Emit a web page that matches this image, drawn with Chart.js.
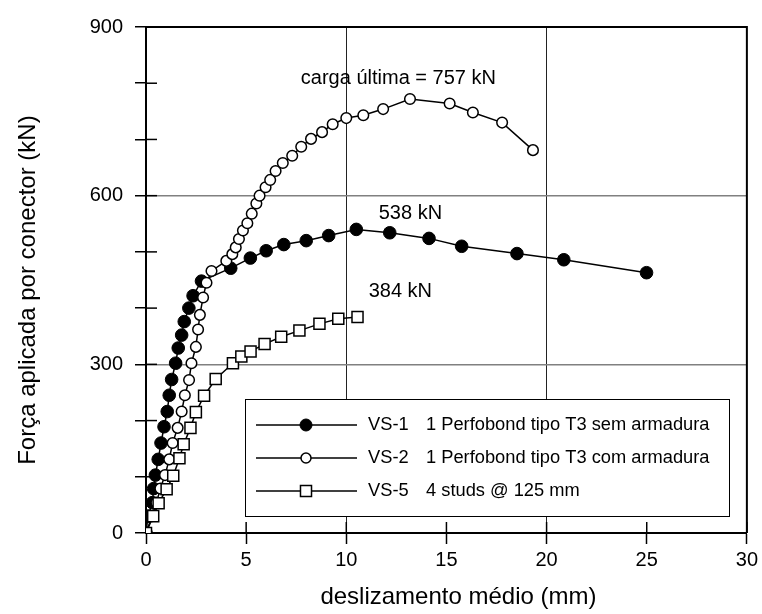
<!DOCTYPE html>
<html>
<head>
<meta charset="utf-8">
<script src="https://cdn.jsdelivr.net/npm/chart.js@4.4.1/dist/chart.umd.min.js"></script>
<style>
  html, body { margin: 0; padding: 0; background: #fff; }
  #wrap { width: 762px; height: 614px; }
</style>
</head>
<body>
<div id="wrap"><canvas id="slipChart" width="762" height="614"></canvas></div>
<script>
// deslizamento (mm) / força (kN)
const vs1Slip = [0, 0.1, 0.32, 0.38, 0.47, 0.61, 0.75, 0.9, 1.06, 1.16, 1.28, 1.48, 1.61, 1.78, 1.91, 2.14, 2.35, 2.77, 4.23, 5.21, 6.0, 6.88, 8.0, 9.12, 10.5, 12.17, 14.13, 15.76, 18.52, 20.86, 24.99];
const vs1Load = [0, 30, 54, 79, 103, 131, 160, 189, 216, 245, 273, 302, 329, 352, 376, 400, 422, 448, 471, 489, 502, 513, 520, 529, 540, 534, 524, 510, 497, 486, 463];

const vs2Slip = [0, 0.3, 0.52, 0.72, 0.95, 1.16, 1.33, 1.58, 1.78, 1.94, 2.15, 2.27, 2.49, 2.6, 2.69, 2.85, 3.02, 3.27, 4.01, 4.31, 4.48, 4.64, 4.84, 5.06, 5.28, 5.51, 5.67, 5.97, 6.2, 6.47, 6.83, 7.3, 7.75, 8.24, 8.79, 9.32, 10.0, 10.85, 11.84, 13.18, 15.16, 16.32, 17.78, 19.32];
const vs2Load = [0, 30, 54, 79, 103, 131, 160, 187, 216, 245, 272, 302, 331, 362, 388, 419, 445, 466, 484, 496, 508, 523, 538, 551, 568, 586, 600, 615, 628, 644, 658, 671, 687, 701, 713, 727, 738, 743, 754, 772, 764, 748, 730, 681];

const vs5Slip = [0, 0.36, 0.63, 1.03, 1.36, 1.67, 1.88, 2.22, 2.49, 2.9, 3.48, 4.34, 4.76, 5.22, 5.92, 6.75, 7.66, 8.66, 9.6, 10.56];
const vs5Load = [0, 30, 53, 78, 102, 133, 158, 187, 215, 244, 274, 302, 314, 323, 336, 349, 360, 372, 381, 384];

const seriesNames = ['VS-1', 'VS-2', 'VS-5'];
const seriesDescriptions = ['1 Perfobond tipo T3 sem armadura', '1 Perfobond tipo T3 com armadura', '4 studs @ 125 mm'];

const xTicks = [0, 5, 10, 15, 20, 25, 30];
const yTickLabels = [0, 300, 600, 900];
const xGridAt = [10, 20];
const yGridAt = [300, 600];

const xTitle = 'deslizamento médio (mm)';
const yTitle = 'Força aplicada por conector (kN)';

const noteTexts = ['carga última = 757 kN', '538 kN', '384 kN'];
const noteSlip = [12.6, 13.2, 12.7];
const noteLoad = [809, 569, 429];

const FONT = "'Liberation Sans', Arial, sans-serif";

function toPoints(xs, ys) {
    return xs.map((x, i) => ({ x: x, y: ys[i] }));
}

// inner tick marks, box frame, axis titles, notes and the legend box
const framePlugin = {
    id: 'frame',
    beforeDatasetsDraw(chart) {
        const { ctx, chartArea: a, scales } = chart;
        ctx.save();
        ctx.strokeStyle = '#000';
        ctx.lineWidth = 1.5;
        scales.x.ticks.forEach(t => {
            const px = scales.x.getPixelForValue(t.value);
            ctx.beginPath();
            ctx.moveTo(px, a.bottom);
            ctx.lineTo(px, a.bottom - 11);
            ctx.stroke();
        });
        scales.y.ticks.forEach(t => {
            const py = scales.y.getPixelForValue(t.value);
            ctx.beginPath();
            ctx.moveTo(a.left, py);
            ctx.lineTo(a.left + 11, py);
            ctx.stroke();
        });
        ctx.lineWidth = 2;
        ctx.beginPath();
        ctx.moveTo(a.left, a.top);
        ctx.lineTo(a.right, a.top);
        ctx.lineTo(a.right, a.bottom);
        ctx.stroke();

        // axis titles (sit a bit off the plot centre in the original)
        ctx.fillStyle = '#000';
        ctx.font = '24px ' + FONT;
        ctx.textAlign = 'center';
        ctx.textBaseline = 'middle';
        ctx.fillText(xTitle, a.left + a.width * 0.52, 597);
        ctx.translate(28, a.top + a.height * 0.52);
        ctx.rotate(-Math.PI / 2);
        ctx.fillText(yTitle, 0, 0);
        ctx.restore();
    },
    afterDatasetsDraw(chart) {
        const { ctx, scales } = chart;
        ctx.save();
        ctx.fillStyle = '#000';
        ctx.font = '20px ' + FONT;
        ctx.textAlign = 'center';
        ctx.textBaseline = 'middle';
        noteTexts.forEach((txt, i) => {
            ctx.fillText(txt, scales.x.getPixelForValue(noteSlip[i]), scales.y.getPixelForValue(noteLoad[i]));
        });

        // legend
        const bx = 245, by = 399, bw = 484, bh = 117;
        ctx.fillStyle = '#fff';
        ctx.fillRect(bx, by, bw, bh);
        ctx.strokeStyle = '#000';
        ctx.lineWidth = 1;
        ctx.strokeRect(bx + 0.5, by + 0.5, bw, bh);
        ctx.font = '18.3px ' + FONT;
        ctx.textAlign = 'left';
        chart.data.datasets.forEach((ds, i) => {
            const ry = 425 + i * 33;
            ctx.strokeStyle = '#000';
            ctx.lineWidth = 1.5;
            ctx.beginPath();
            ctx.moveTo(256, ry);
            ctx.lineTo(357, ry);
            ctx.stroke();
            ctx.fillStyle = ds.pointBackgroundColor;
            ctx.strokeStyle = '#000';
            ctx.lineWidth = ds.pointBorderWidth;
            Chart.helpers.drawPoint(ctx, {
                pointStyle: ds.pointStyle,
                radius: ds.legendRadius,
                rotation: 0,
                borderWidth: ds.pointBorderWidth
            }, 306, ry);
            ctx.fillStyle = '#000';
            ctx.fillText(seriesNames[i], 368, ry);
            ctx.fillText(seriesDescriptions[i], 426, ry);
        });
        ctx.restore();
    }
};

const ctx = document.getElementById('slipChart').getContext('2d');

new Chart(ctx, {
    type: 'scatter',
    data: {
        datasets: [
            {
                label: seriesNames[0],
                data: toPoints(vs1Slip, vs1Load),
                showLine: true,
                borderColor: '#000',
                borderWidth: 1.5,
                pointStyle: 'circle',
                pointRadius: 6.3,
                legendRadius: 6,
                pointBackgroundColor: '#000',
                pointBorderColor: '#000',
                pointBorderWidth: 1,
                order: 3
            },
            {
                label: seriesNames[1],
                data: toPoints(vs2Slip, vs2Load),
                showLine: true,
                borderColor: '#000',
                borderWidth: 1.5,
                pointStyle: 'circle',
                pointRadius: 5.3,
                legendRadius: 5,
                pointBackgroundColor: '#fff',
                pointBorderColor: '#000',
                pointBorderWidth: 1.5,
                order: 2
            },
            {
                label: seriesNames[2],
                data: toPoints(vs5Slip, vs5Load),
                showLine: true,
                borderColor: '#000',
                borderWidth: 1.5,
                pointStyle: 'rect',
                pointRadius: 7.8,
                legendRadius: 7.8,
                pointBackgroundColor: '#fff',
                pointBorderColor: '#000',
                pointBorderWidth: 1.5,
                order: 1
            }
        ]
    },
    options: {
        responsive: false,
        animation: false,
        devicePixelRatio: 1,
        layout: {
            padding: { left: 0, top: 27, right: 12, bottom: 0 }
        },
        scales: {
            x: {
                type: 'linear',
                min: 0,
                max: 30,
                afterFit: (scale) => { scale.height = 81; },
                afterBuildTicks: (scale) => { scale.ticks = xTicks.map(v => ({ value: v })); },
                ticks: {
                    color: '#000',
                    font: { family: FONT, size: 20 },
                    padding: 4
                },
                grid: {
                    color: (c) => xGridAt.includes(c.tick && c.tick.value) ? '#222' : 'rgba(0,0,0,0)',
                    lineWidth: 1,
                    tickColor: '#000',
                    tickLength: 11,
                    tickWidth: 1.5
                },
                border: { color: '#000', width: 2 }
            },
            y: {
                type: 'linear',
                min: 0,
                max: 900,
                afterFit: (scale) => { scale.width = 146; },
                ticks: {
                    stepSize: 100,
                    color: '#000',
                    font: { family: FONT, size: 20 },
                    padding: 12,
                    callback: (v) => yTickLabels.includes(v) ? v : ''
                },
                grid: {
                    color: (c) => yGridAt.includes(c.tick && c.tick.value) ? '#808080' : 'rgba(0,0,0,0)',
                    lineWidth: 1.5,
                    tickColor: '#000',
                    tickLength: 11,
                    tickWidth: 1.5
                },
                border: { color: '#000', width: 2 }
            }
        },
        plugins: {
            legend: { display: false },
            tooltip: { enabled: false }
        }
    },
    plugins: [framePlugin]
});
</script>
</body>
</html>
